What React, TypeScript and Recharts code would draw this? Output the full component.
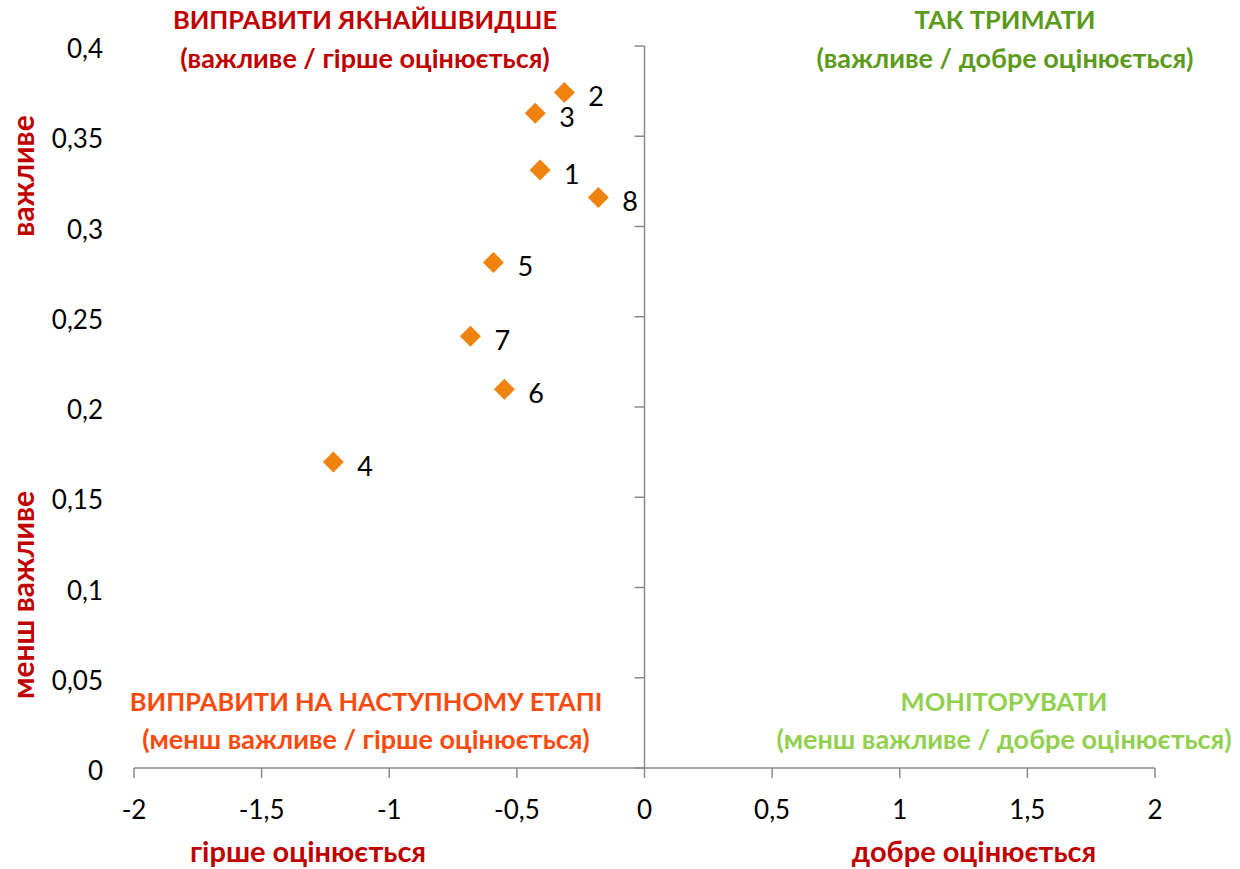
import React from 'react';
import { ScatterChart, Scatter, XAxis, YAxis, ReferenceLine } from 'recharts';

// ---- data ----
const POINT_IDS = ['1', '2', '3', '4', '5', '6', '7', '8'];
const X_VALUES = [-0.409, -0.314, -0.428, -1.219, -0.592, -0.549, -0.682, -0.181];
const Y_VALUES = [0.3313, 0.3743, 0.3627, 0.1695, 0.2801, 0.2098, 0.2392, 0.3161];
const X_TICKS = [-2, -1.5, -1, -0.5, 0, 0.5, 1, 1.5, 2];
const Y_TICKS = [0, 0.05, 0.1, 0.15, 0.2, 0.25, 0.3, 0.35, 0.4];
const X_DOMAIN = [-2, 2];
const Y_DOMAIN = [0, 0.4];

const QUADRANT_TITLES = [
  'ВИПРАВИТИ ЯКНАЙШВИДШЕ',
  'ТАК ТРИМАТИ',
  'ВИПРАВИТИ НА НАСТУПНОМУ ЕТАПІ',
  'МОНІТОРУВАТИ',
];
const QUADRANT_SUBTITLES = [
  '(важливе / гірше оцінюється)',
  '(важливе / добре оцінюється)',
  '(менш важливе / гірше оцінюється)',
  '(менш важливе / добре оцінюється)',
];
const X_AXIS_TITLES = ['гірше оцінюється', 'добре оцінюється'];
const Y_AXIS_TITLES = ['важливе', 'менш важливе'];

// ---- layout / style ----
const W = 1240;
const H = 869;
const PLOT_LEFT = 134;
const PLOT_RIGHT = 1155;
const PLOT_TOP = 46;
const X_AXIS_H = 101;
const ZERO_X = PLOT_LEFT + ((0 - X_DOMAIN[0]) / (X_DOMAIN[1] - X_DOMAIN[0])) * (PLOT_RIGHT - PLOT_LEFT);
const AXIS_COLOR = '#8a8a8a';
const MARKER_COLOR = '#F0820F';
const FONT = "Lato, 'Open Sans', 'Noto Sans', sans-serif";
const RED = '#C00000';
const QUADRANT_COLORS = ['#C00000', '#5C9A1C', '#FA4B0F', '#92D050'];
const QUADRANT_CENTERS = [
  { x: 365, y1: 20, y2: 57 },
  { x: 1005, y1: 20, y2: 57 },
  { x: 366, y1: 702, y2: 738 },
  { x: 1004, y1: 702, y2: 738 },
];
const TICK_FONT = 26;

const fmt = (v: number) => String(v).replace('.', ',');

const points = POINT_IDS.map((id, i) => ({ id, x: X_VALUES[i], y: Y_VALUES[i] }));

const Diamond = (props: any) => {
  const { cx, cy, payload } = props;
  const r = 10.5;
  return (
    <g>
      <polygon
        points={`${cx},${cy - r} ${cx + r},${cy} ${cx},${cy + r} ${cx - r},${cy}`}
        fill={MARKER_COLOR}
      />
      <text
        x={cx + 24}
        y={cy + 3}
        fontSize={27}
        fontFamily={FONT}
        fill="#000"
        dominantBaseline="central"
        textAnchor="start"
      >
        {payload.id}
      </text>
    </g>
  );
};

const YTick = (props: any) => {
  const { y, payload } = props;
  return (
    <g>
      <text
        x={103}
        y={y + 2}
        textAnchor="end"
        dominantBaseline="central"
        fontSize={TICK_FONT}
        fontFamily={FONT}
        fill="#000"
      >
        {fmt(payload.value)}
      </text>
      <line x1={ZERO_X - 10} y1={y} x2={ZERO_X} y2={y} stroke={AXIS_COLOR} strokeWidth={1.5} />
    </g>
  );
};

const abs = (x: number, y: number, extra: React.CSSProperties = {}): React.CSSProperties => ({
  position: 'absolute',
  left: x,
  top: y,
  transform: 'translate(-50%, -50%)',
  whiteSpace: 'nowrap',
  fontFamily: FONT,
  fontWeight: 700,
  lineHeight: 1,
  ...extra,
});

export default function App() {
  return (
    <div style={{ position: 'absolute', left: 0, top: 0, width: W, height: H, background: '#fff', overflow: 'hidden' }}>
      <ScatterChart
        width={W}
        height={H}
        margin={{ top: PLOT_TOP, right: W - PLOT_RIGHT, bottom: 0, left: 0 }}
      >
        <XAxis
          type="number"
          dataKey="x"
          domain={X_DOMAIN}
          ticks={X_TICKS}
          interval={0}
          height={X_AXIS_H}
          tickFormatter={fmt}
          axisLine={{ stroke: AXIS_COLOR, strokeWidth: 1.5 }}
          tickLine={{ stroke: AXIS_COLOR, strokeWidth: 1.5 }}
          tickSize={10}
          tickMargin={23}
          tick={{ fontSize: TICK_FONT, fontFamily: FONT, fill: '#000' }}
        />
        <YAxis
          type="number"
          dataKey="y"
          domain={Y_DOMAIN}
          ticks={Y_TICKS}
          interval={0}
          width={PLOT_LEFT}
          axisLine={false}
          tickLine={false}
          tickSize={0}
          tick={<YTick />}
        />
        <ReferenceLine x={0} stroke={AXIS_COLOR} strokeWidth={1.5} />
        <Scatter data={points} shape={<Diamond />} isAnimationActive={false} />
      </ScatterChart>

      {QUADRANT_TITLES.map((t, i) => (
        <div key={'t' + i} style={abs(QUADRANT_CENTERS[i].x, QUADRANT_CENTERS[i].y1, { color: QUADRANT_COLORS[i], fontSize: 25.5 })}>
          {t}
        </div>
      ))}
      {QUADRANT_SUBTITLES.map((t, i) => (
        <div key={'s' + i} style={abs(QUADRANT_CENTERS[i].x, QUADRANT_CENTERS[i].y2, { color: QUADRANT_COLORS[i], fontSize: 27 })}>
          {t}
        </div>
      ))}
      <div style={abs(308, 850, { color: RED, fontSize: 29 })}>{X_AXIS_TITLES[0]}</div>
      <div style={abs(974, 850, { color: RED, fontSize: 29 })}>{X_AXIS_TITLES[1]}</div>
      <div style={abs(22, 176, { color: RED, fontSize: 30, transform: 'translate(-50%, -50%) rotate(-90deg)' })}>
        {Y_AXIS_TITLES[0]}
      </div>
      <div style={abs(22, 595, { color: RED, fontSize: 30, transform: 'translate(-50%, -50%) rotate(-90deg)' })}>
        {Y_AXIS_TITLES[1]}
      </div>
    </div>
  );
}
